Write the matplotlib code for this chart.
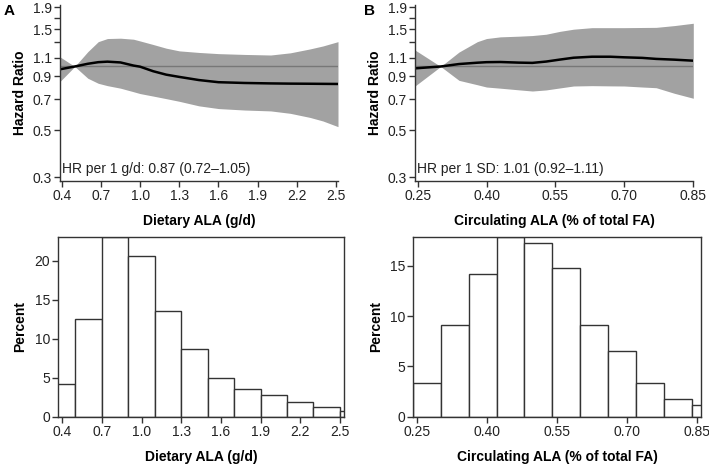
import matplotlib
matplotlib.use('Agg')
import matplotlib.pyplot as plt
from matplotlib.ticker import FixedLocator, FixedFormatter, NullFormatter

plt.rcParams['font.family'] = ['Liberation Sans', 'DejaVu Sans']

# panel A: dietary ALA spline
diet_x = [0.387, 0.5, 0.6, 0.68, 0.75, 0.85, 0.95, 1.0, 1.1, 1.2, 1.3, 1.45,
          1.6, 1.8, 2.0, 2.15, 2.3, 2.4, 2.515]
diet_hr = [0.97, 1.0, 1.03, 1.048, 1.054, 1.045, 1.01, 0.998, 0.95, 0.915,
           0.893, 0.863, 0.843, 0.836, 0.832, 0.83, 0.829, 0.828, 0.827]
diet_hi = [1.11, 1.0, 1.175, 1.31, 1.355, 1.36, 1.345, 1.32, 1.27, 1.22,
           1.185, 1.165, 1.15, 1.14, 1.133, 1.16, 1.21, 1.25, 1.31]
diet_lo = [0.85, 1.0, 0.88, 0.833, 0.812, 0.79, 0.76, 0.745, 0.725, 0.705,
           0.685, 0.652, 0.633, 0.623, 0.617, 0.601, 0.575, 0.553, 0.52]

# panel B: circulating ALA spline
circ_x = [0.244, 0.30, 0.34, 0.38, 0.40, 0.43, 0.47, 0.50, 0.53, 0.56, 0.59,
          0.63, 0.67, 0.70, 0.74, 0.77, 0.81, 0.851]
circ_hr = [0.98, 1.0, 1.027, 1.042, 1.048, 1.05, 1.043, 1.04, 1.055, 1.078,
           1.1, 1.112, 1.112, 1.105, 1.098, 1.086, 1.077, 1.065]
circ_hi = [1.196, 1.0, 1.17, 1.31, 1.355, 1.38, 1.39, 1.40, 1.42, 1.465, 1.5,
           1.525, 1.525, 1.525, 1.528, 1.53, 1.56, 1.6]
circ_lo = [0.809, 1.0, 0.86, 0.82, 0.80, 0.79, 0.776, 0.766, 0.775, 0.792,
           0.809, 0.812, 0.81, 0.809, 0.80, 0.794, 0.747, 0.708]

# histograms
diet_edges = [0.3, 0.5, 0.7, 0.9, 1.1, 1.3, 1.5, 1.7, 1.9, 2.1, 2.3, 2.5]
diet_pct = [4.27, 12.56, 23.1, 20.6, 13.63, 8.76, 5.0, 3.55, 2.86, 1.92, 1.28, 0.73]
circ_edges = [0.24, 0.30, 0.36, 0.42, 0.48, 0.54, 0.60, 0.66, 0.72, 0.78, 0.84]
circ_pct = [3.4, 9.1, 14.2, 17.9, 17.25, 14.75, 9.1, 6.5, 3.4, 1.75, 1.15]

hr_ticks = [0.3, 0.5, 0.7, 0.9, 1.1, 1.5, 1.9]
diet_ticks = [0.4, 0.7, 1.0, 1.3, 1.6, 1.9, 2.2, 2.5]
circ_ticks = [0.25, 0.40, 0.55, 0.70, 0.85]

W, H = 709, 467
TXT = '#222222'
FS = 10


def box(l, r, t, b):
    return [l / W, 1 - b / H, (r - l) / W, (b - t) / H]


def style(ax):
    ax.tick_params(direction='out', length=4, width=1, color='#333333',
                   labelsize=FS, labelcolor=TXT, pad=2)
    for s in ax.spines.values():
        s.set_color('#333333')
        s.set_linewidth(1)


def plotSpline(ax, x, hr, lo, hi, xlim, xticks, xfmt, label, note):
    ax.fill_between(x, lo, hi, color='#a2a2a2', lw=0)
    ax.axhline(1.0, color='#777777', lw=1)
    ax.plot(x, hr, color='black', lw=1.8)
    ax.set_yscale('log')
    ax.set_ylim(0.289, 1.951)
    ax.set_xlim(*xlim)
    ax.yaxis.set_major_locator(FixedLocator(hr_ticks))
    ax.yaxis.set_minor_locator(FixedLocator([1.3, 1.7]))
    ax.yaxis.set_major_formatter(FixedFormatter(['%.1f' % v for v in hr_ticks]))
    ax.yaxis.set_minor_formatter(NullFormatter())
    ax.set_xticks(xticks)
    ax.set_xticklabels([xfmt % v for v in xticks])
    ax.spines['top'].set_visible(False)
    ax.spines['right'].set_visible(False)
    style(ax)
    ax.tick_params(axis='y', which='minor', length=4, width=1, color='#333333')
    ax.set_ylabel('Hazard Ratio', fontsize=FS, fontweight='bold', labelpad=4)
    ax.set_xlabel(label, fontsize=FS, fontweight='bold', labelpad=8)
    ax.text(0.008, 0.025, note, transform=ax.transAxes, fontsize=FS,
            color=TXT, ha='left', va='bottom')


def plotHist(ax, edges, pct, width, xlim, xticks, xfmt, yticks, label):
    ax.bar(edges, pct, width=width, align='edge', color='white',
           edgecolor='#333333', linewidth=1)
    ax.set_xlim(*xlim)
    ax.set_ylim(0, max(pct))
    ax.set_xticks(xticks)
    ax.set_xticklabels([xfmt % v for v in xticks])
    ax.set_yticks(yticks)
    style(ax)
    ax.set_ylabel('Percent', fontsize=FS, fontweight='bold', labelpad=5)
    ax.set_xlabel(label, fontsize=FS, fontweight='bold', labelpad=8)


fig = plt.figure(figsize=(W / 100, H / 100), dpi=100)

axA = fig.add_axes(box(60, 338, 5, 180.7))
plotSpline(axA, diet_x, diet_hr, diet_lo, diet_hi, (0.387, 2.515), diet_ticks,
           '%.1f', 'Dietary ALA (g/d)', 'HR per 1 g/d: 0.87 (0.72\u20131.05)')

axB = fig.add_axes(box(415, 693.3, 5, 180.7))
plotSpline(axB, circ_x, circ_hr, circ_lo, circ_hi, (0.244, 0.851), circ_ticks,
           '%.2f', 'Circulating ALA (% of total FA)', 'HR per 1 SD: 1.01 (0.92\u20131.11)')

axC = fig.add_axes(box(58.3, 344.3, 236.7, 417))
plotHist(axC, diet_edges, diet_pct, 0.2, (0.37, 2.533), diet_ticks, '%.1f',
         [0, 5, 10, 15, 20], 'Dietary ALA (g/d)')

axD = fig.add_axes(box(413.3, 700.7, 236.7, 416.7))
plotHist(axD, circ_edges, circ_pct, 0.06, (0.241, 0.859), circ_ticks, '%.2f',
         [0, 5, 10, 15], 'Circulating ALA (% of total FA)')

fig.text(4 / W, 1 - 4 / H, 'A', fontsize=11, fontweight='bold', va='top', ha='left')
fig.text(364 / W, 1 - 4 / H, 'B', fontsize=11, fontweight='bold', va='top', ha='left')

plt.savefig('out.png', dpi=100)
plt.close()
